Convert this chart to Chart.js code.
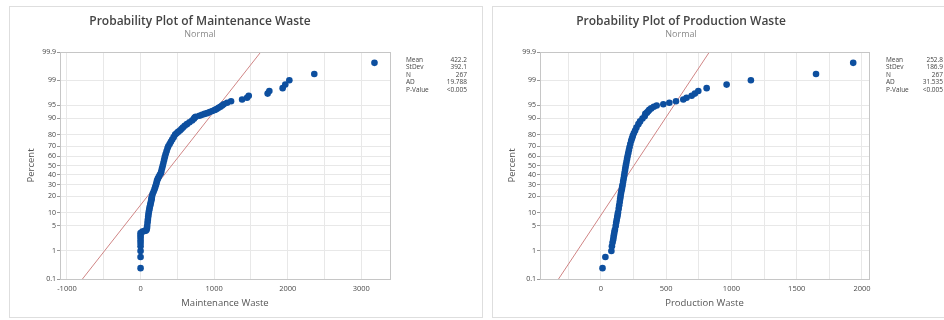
<!DOCTYPE html>
<html>
<head>
<meta charset="utf-8">
<title>Probability Plots</title>
<script src="https://cdn.jsdelivr.net/npm/chart.js@4.4.1/dist/chart.umd.min.js"></script>
<style>
  html, body { margin: 0; padding: 0; background: #fff; }
  body { width: 944px; height: 320px; overflow: hidden; position: relative; }
  .panel { position: absolute; top: 6px; height: 310px; border: 1px solid #dedede; background: #fff; }
  #panel-maint { left: 9px; width: 472px; }
  #panel-prod { left: 492px; width: 470px; }
  .panel canvas { display: block; }
</style>
</head>
<body>
<div class="panel" id="panel-maint"><canvas id="chart-maint" width="472" height="310"></canvas></div>
<div class="panel" id="panel-prod"><canvas id="chart-prod" width="470" height="310"></canvas></div>

<script>
// ─── Data ────────────────────────────────────────────────────────────────────
const percentTicks = [0.1, 1, 5, 10, 20, 30, 40, 50, 60, 70, 80, 90, 95, 99, 99.9];
const percentLabels = ['0.1', '1', '5', '10', '20', '30', '40', '50', '60', '70', '80', '90', '95', '99', '99.9'];

const maintTicks = [-1000, -500, 0, 500, 1000, 1500, 2000, 2500, 3000];
const prodTicks = [-250, 0, 250, 500, 750, 1000, 1250, 1500, 1750, 2000];

const maintPct = [0.26, 0.64, 1.0, 1.4, 1.75, 2.1, 2.5, 2.9, 3.3,
  3.6, 3.7, 3.8, 4.0,
  4.4, 5, 6, 7, 8, 9, 10, 11, 12, 13, 14, 15, 16, 17, 18, 19,
  20, 22, 24, 26, 28, 30, 32, 34, 36, 38, 40, 42,
  44, 47, 50, 53, 56, 59, 62, 65, 68, 70,
  72, 74, 76, 78,
  80, 81, 82, 83, 84, 85, 86, 87, 88, 89, 89.8,
  90.4, 90.8, 91.2, 91.6, 92.0, 92.3, 92.7, 93.1, 93.5, 93.8, 94.2, 94.5,
  94.88, 95.25, 95.62, 95.99, 96.37, 96.75, 97.12, 97.49, 97.87, 98.24, 98.62, 98.99, 99.36, 99.74];
const maintX = [0, 0, 0, 0, 0, 0, 0, 0, 0,
  25, 50, 70, 82,
  86, 90, 95, 99, 103, 107, 111, 116, 121, 126, 131, 136, 141, 145, 149, 152,
  155, 165, 178, 190, 200, 210, 217, 224, 235, 248, 262, 277,
  283, 292, 302, 311, 320, 329, 340, 353, 366, 377,
  395, 412, 430, 450,
  470, 490, 510, 535, 555, 575, 600, 630, 665, 700, 725,
  735, 750, 800, 835, 870, 905, 940, 975, 1010, 1035, 1060, 1085,
  1108, 1130, 1176, 1230, 1380, 1447, 1470, 1727, 1750, 1931, 1967, 2022, 2361, 3179];

const prodPct = [0.26, 0.64,
  1.0, 1.4, 1.8, 2.2, 2.6, 3.0, 3.5, 4.0,
  5, 6, 7, 8, 9, 10,
  12, 14, 16, 18, 20, 22, 24, 26, 28, 30,
  33, 36, 39, 42, 45, 48, 51, 54, 57, 60,
  63, 66, 69, 72, 75,
  77, 79, 81, 83, 85, 87,
  88.5, 90, 91, 92, 92.5, 93, 93.5, 94, 94.5,
  94.88, 95.25, 95.62, 95.99, 96.37, 96.75, 97.12, 97.49, 97.87, 98.24, 98.62, 98.99, 99.36, 99.74];
const prodX = [12, 34,
  80, 84, 89, 94, 97, 100, 103, 107,
  113, 117, 121, 125, 128, 131,
  136, 140, 144, 147, 150, 153, 156, 160, 163, 166,
  170, 174, 178, 181, 185, 188, 192, 196, 200, 204,
  209, 214, 219, 225, 232,
  238, 244, 252, 262, 272, 287,
  300, 318, 335, 340, 352, 362, 370, 385, 405,
  427, 478, 524, 575, 631, 656, 695, 720, 746, 810, 963, 1149, 1648, 1933];

// fitted normal lines, end points at 0.1% and 99.9%
const fitPct = [0.1, 99.9];
const maintFitX = [-790, 1634];
const prodFitX = [-325, 831];

const statLabels = ['Mean', 'StDev', 'N', 'AD', 'P-Value'];
const maintStats = ['422.2', '392.1', '267', '19.788', '<0.005'];
const prodStats = ['252.8', '186.9', '267', '31.535', '<0.005'];

// ─── Normal probability scale helper ─────────────────────────────────────────
function probit(p) {
  const a = [-3.969683028665376e+01, 2.209460984245205e+02, -2.759285104469687e+02, 1.383577518672690e+02, -3.066479806614716e+01, 2.506628277459239e+00];
  const b = [-5.447609879822406e+01, 1.615858368580409e+02, -1.556989798598866e+02, 6.680131188771972e+01, -1.328068155288572e+01];
  const c = [-7.784894002430293e-03, -3.223964580411365e-01, -2.400758277161838e+00, -2.549671010243570e+00, 4.374664141464968e+00, 2.938163982698783e+00];
  const d = [7.784695709041462e-03, 3.224671290700398e-01, 2.445134137142996e+00, 3.754408661907416e+00];
  const lo = 0.02425;
  let q, r;
  if (p < lo) {
    q = Math.sqrt(-2 * Math.log(p));
    return (((((c[0]*q+c[1])*q+c[2])*q+c[3])*q+c[4])*q+c[5]) / ((((d[0]*q+d[1])*q+d[2])*q+d[3])*q+1);
  }
  if (p > 1 - lo) {
    q = Math.sqrt(-2 * Math.log(1 - p));
    return -(((((c[0]*q+c[1])*q+c[2])*q+c[3])*q+c[4])*q+c[5]) / ((((d[0]*q+d[1])*q+d[2])*q+d[3])*q+1);
  }
  q = p - 0.5; r = q * q;
  return (((((a[0]*r+a[1])*r+a[2])*r+a[3])*r+a[4])*r+a[5])*q / (((((b[0]*r+b[1])*r+b[2])*r+b[3])*r+b[4])*r+1);
}
const toZ = pct => probit(pct / 100);

// ─── Plugins ─────────────────────────────────────────────────────────────────
const framePlugin = {
  id: 'frame',
  afterDatasetsDraw(chart) {
    const { ctx, chartArea: a } = chart;
    ctx.save();
    ctx.strokeStyle = '#c6c6c6';
    ctx.lineWidth = 1;
    ctx.strokeRect(Math.round(a.left) + 0.5, Math.round(a.top) + 0.5, Math.round(a.width), Math.round(a.height));
    ctx.restore();
  }
};

const statsPlugin = {
  id: 'statsBox',
  afterDraw(chart, args, opts) {
    const { ctx, chartArea } = chart;
    ctx.save();
    ctx.font = '6.5px "Open Sans", sans-serif';
    ctx.fillStyle = '#444';
    ctx.textBaseline = 'middle';
    statLabels.forEach((lab, i) => {
      const y = chartArea.top + 8 + i * 7.5;
      ctx.textAlign = 'left';
      ctx.fillText(lab, chartArea.right + opts.labelGap, y);
      ctx.textAlign = 'right';
      ctx.fillText(opts.values[i], chartArea.right + opts.valueGap, y);
    });
    ctx.restore();
  }
};

// ─── Chart builder ───────────────────────────────────────────────────────────
function renderProbPlot(canvasId, cfg) {
  const font = '"Open Sans", sans-serif';
  return new Chart(document.getElementById(canvasId), {
    type: 'scatter',
    data: {
      datasets: [
        {
          label: 'Data',
          data: cfg.xs.map((x, i) => ({ x, y: toZ(cfg.pcts[i]) })),
          pointRadius: 3.3,
          pointBackgroundColor: '#0d4f9f',
          pointBorderWidth: 0,
          order: 0,
        },
        {
          label: 'Fit',
          data: cfg.fitX.map((x, i) => ({ x, y: toZ(fitPct[i]) })),
          showLine: true,
          borderColor: '#d08585',
          borderWidth: 1,
          pointRadius: 0,
          order: 1,
        }
      ]
    },
    options: {
      responsive: false,
      animation: false,
      events: [],
      layout: { padding: { left: 0, right: cfg.padRight, top: 0, bottom: 8 } },
      plugins: {
        legend: { display: false },
        tooltip: { enabled: false },
        title: {
          display: true, text: cfg.title, color: '#444',
          font: { family: font, size: 12, weight: '600', lineHeight: 1.2 },
          padding: { top: 7, bottom: 0 }
        },
        subtitle: {
          display: true, text: 'Normal', color: '#8a8a8a',
          font: { family: font, size: 9, lineHeight: 1.2 },
          padding: { top: 0.5, bottom: 12.3 }
        },
        statsBox: { values: cfg.stats, labelGap: cfg.labelGap, valueGap: cfg.valueGap }
      },
      scales: {
        x: {
          type: 'linear', min: cfg.xMin, max: cfg.xMax,
          afterBuildTicks: s => { s.ticks = cfg.xTicks.map(v => ({ value: v })); },
          afterFit: s => { s.height = 30; },
          ticks: {
            color: '#4a4a4a', font: { family: font, size: 7.5 }, padding: 5, maxRotation: 0, autoSkip: false,
            callback: v => (v % cfg.labelStep === 0 ? String(v) : '')
          },
          grid: { color: '#e8e8e8', drawTicks: false },
          border: { color: '#c6c6c6' },
          title: { display: true, text: cfg.xTitle, color: '#555', font: { family: font, size: 9.5 }, padding: { top: 0, bottom: 0 } }
        },
        y: {
          type: 'linear', min: toZ(0.1), max: toZ(99.9),
          afterBuildTicks: s => { s.ticks = percentTicks.map(p => ({ value: toZ(p) })); },
          afterFit: s => { s.width = cfg.yWidth; },
          ticks: {
            color: '#444', font: { family: font, size: 7 }, padding: 1, autoSkip: false,
            callback: (v, i) => percentLabels[i]
          },
          grid: { color: '#e8e8e8', tickColor: '#999', tickLength: 3 },
          border: { color: '#c6c6c6' },
          title: { display: true, text: 'Percent', color: '#555', font: { family: font, size: 9.5 }, padding: { top: cfg.yTitlePad, bottom: 0 } }
        }
      }
    },
    plugins: [framePlugin, statsPlugin]
  });
}

// ─── Init ────────────────────────────────────────────────────────────────────
renderProbPlot('chart-maint', {
  title: 'Probability Plot of Maintenance Waste',
  xTitle: 'Maintenance Waste',
  xs: maintX, pcts: maintPct, fitX: maintFitX, stats: maintStats,
  xTicks: maintTicks, labelStep: 1000, xMin: -1095, xMax: 3390,
  padRight: 92, yWidth: 50, yTitlePad: 16, labelGap: 16, valueGap: 77
});

renderProbPlot('chart-prod', {
  title: 'Probability Plot of Production Waste',
  xTitle: 'Production Waste',
  xs: prodX, pcts: prodPct, fitX: prodFitX, stats: prodStats,
  xTicks: prodTicks, labelStep: 500, xMin: -467, xMax: 2054,
  padRight: 94, yWidth: 47, yTitlePad: 14, labelGap: 17, valueGap: 74
});
</script>
</body>
</html>
